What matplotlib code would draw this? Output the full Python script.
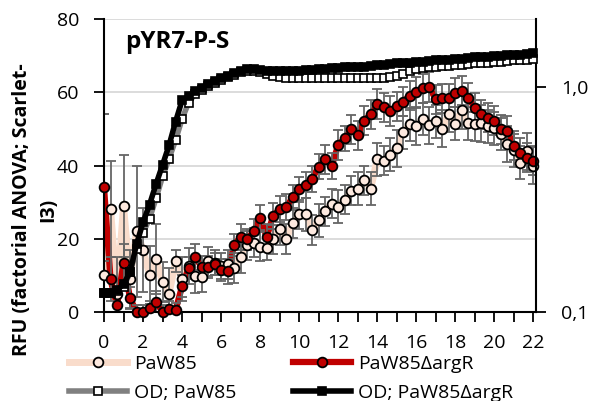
import numpy as np
import matplotlib
matplotlib.use("Agg")
import matplotlib.pyplot as plt
from matplotlib.ticker import FixedLocator, FixedFormatter, NullLocator

plt.rcParams['font.family'] = ['Open Sans', 'DejaVu Sans']

# sampling every 20 min, 0-22 h
hours = np.arange(67) / 3.0

paw85 = [10.1, 28.1, 5.0, 28.9, 9.0, 22.0, 17.0, 10.1, 14.5, 8.1,
         5.0, 13.8, 9.0, 12.6, 9.7, 9.5, 13.8, 13.5, 12.5, 13.0,
         12.0, 15.1, 18.2, 18.9, 17.8, 17.6, 19.8, 22.8, 19.9, 24.3,
         26.7, 26.7, 22.4, 25.1, 27.5, 29.6, 28.7, 30.7, 33.1, 33.7,
         36.0, 33.7, 41.7, 41.3, 43.0, 44.7, 49.1, 51.2, 50.7, 52.7,
         51.0, 52.1, 50.1, 54.1, 51.4, 55.1, 51.6, 51.2, 51.5, 50.7,
         50.2, 48.6, 45.9, 44.1, 40.7, 43.9, 40.0]
paw85_err = [44, 13, 10, 14, 8, 18, 11.5, 8, 9.5, 5.5,
             7, 3, 6, 5, 4.5, 4, 4, 3.5, 3.5, 4,
             4, 4.5, 4, 4, 4, 3.5, 4, 4.5, 4, 4,
             4, 4.5, 4, 4.5, 4, 4, 4.5, 4, 4, 4.5,
             4, 4.5, 4.5, 4, 4.5, 5, 4.5, 4.5, 5, 4.5,
             5, 4.5, 5, 5, 4.5, 5, 4.5, 4.5, 5, 4.5,
             4.5, 4.5, 5, 4.5, 4.5, 5, 5]

argr = [34.0, 8.9, 1.8, 13.5, 3.8, 0.0, 0.0, 1.1, 2.8, 0.0,
        0.9, 0.5, 7.0, 11.9, 15.0, 12.4, 12.2, 13.1, 11.5, 11.1,
        18.3, 20.5, 19.8, 22.0, 25.8, 20.5, 26.2, 28.2, 28.6, 31.3,
        33.5, 34.6, 36.4, 39.7, 41.7, 39.8, 45.6, 47.4, 49.9, 48.2,
        52.2, 54.0, 56.8, 55.9, 54.9, 56.2, 57.4, 59.1, 60.1, 61.1,
        61.4, 58.1, 58.3, 58.3, 59.9, 60.4, 58.5, 55.8, 54.0, 53.1,
        52.2, 49.9, 49.5, 45.4, 43.5, 42.1, 41.3]
argr_err = [20, 6, 4, 5, 3, 2, 2, 2, 3, 2,
            2, 2, 3, 3, 3.5, 3, 3, 3, 3, 3.5,
            3, 3.5, 3, 3.5, 3.5, 3.5, 3.5, 3.5, 3.5, 3.5,
            3.5, 3.5, 3.5, 3.5, 4, 3.5, 4, 3.5, 4, 4,
            4, 4, 4, 4, 4, 4, 4, 4, 4, 4,
            4, 4, 4, 4, 4, 4, 4, 4, 4, 4,
            4, 4, 4, 4, 4, 4, 4]

od_paw85 = [0.121, 0.121, 0.124, 0.129, 0.15, 0.19, 0.225, 0.26, 0.32, 0.40,
            0.48, 0.58, 0.72, 0.85, 0.93, 0.97, 1.01, 1.04, 1.07, 1.10,
            1.13, 1.16, 1.18, 1.18, 1.16, 1.14, 1.12, 1.10, 1.095, 1.09,
            1.09, 1.09, 1.09, 1.09, 1.09, 1.09, 1.09, 1.09, 1.09, 1.09,
            1.09, 1.09, 1.09, 1.09, 1.10, 1.12, 1.14, 1.18, 1.20, 1.21,
            1.22, 1.23, 1.235, 1.24, 1.25, 1.255, 1.26, 1.27, 1.275, 1.28,
            1.29, 1.295, 1.30, 1.31, 1.315, 1.32, 1.33]
od_argr = [0.121, 0.121, 0.125, 0.133, 0.15, 0.20, 0.25, 0.30, 0.37, 0.45,
           0.55, 0.70, 0.87, 0.91, 0.96, 0.99, 1.03, 1.06, 1.09, 1.12,
           1.15, 1.18, 1.20, 1.20, 1.19, 1.18, 1.18, 1.18, 1.18, 1.18,
           1.18, 1.19, 1.19, 1.20, 1.20, 1.21, 1.21, 1.22, 1.22, 1.23,
           1.23, 1.24, 1.25, 1.25, 1.26, 1.27, 1.27, 1.28, 1.29, 1.29,
           1.30, 1.31, 1.31, 1.32, 1.33, 1.33, 1.34, 1.35, 1.35, 1.36,
           1.37, 1.37, 1.38, 1.39, 1.39, 1.40, 1.41]

fig = plt.figure(figsize=(5.89, 4.01), dpi=100)
ax = fig.add_axes([0.1766, 0.2219, 0.7335, 0.7307])

peach = '#F9DCCB'
red = '#C00000'

ax.plot(hours, paw85, color=peach, lw=5, zorder=2)
ax.plot(hours, argr, color=red, lw=4.5, zorder=2.1)
ax.errorbar(hours, paw85, yerr=paw85_err, fmt='none', ecolor='#666666',
            elinewidth=1.3, capsize=3.5, capthick=1.3, zorder=2.5)
ax.errorbar(hours, argr, yerr=argr_err, fmt='none', ecolor='#666666',
            elinewidth=1.3, capsize=3.5, capthick=1.3, zorder=2.5)
ax.plot(hours, paw85, ls='none', marker='o', ms=7, mfc='#FDE9DF', mec='black',
        mew=1.3, zorder=3, clip_on=False)
ax.plot(hours, argr, ls='none', marker='o', ms=7, mfc=red, mec='black',
        mew=1.3, zorder=3.1, clip_on=False)

ax.set_xlim(0, 22.14)
ax.set_ylim(0, 80)
ax.set_yticks([0, 20, 40, 60, 80])
ax.set_xticks(np.arange(0, 23, 2))
ax.xaxis.set_minor_locator(FixedLocator(np.arange(0, 23, 1)))
ax.tick_params(axis='both', which='both', direction='out', length=7, width=1.3,
               labelsize=14, color='black')
ax.tick_params(axis='y', pad=11)
ax.tick_params(axis='x', which='major', pad=9)
ax.grid(axis='y', color='#D9D9D9', lw=1.3)
ax.set_axisbelow(True)
for s in ['top', 'right']:
    ax.spines[s].set_visible(False)
for s in ['left', 'bottom']:
    ax.spines[s].set_linewidth(1.5)

ax.set_ylabel('RFU (factorial ANOVA; Scarlet-\nI3)', fontsize=14,
              fontweight='bold', linespacing=1.4)
ax.yaxis.set_label_coords(-0.107, 0.348)
ax.text(0.05, 0.92, 'pYR7-P-S', transform=ax.transAxes, fontsize=17.5,
        fontweight='bold', va='center', ha='left')

ax2 = ax.twinx()
ax2.plot(hours, od_paw85, color='#808080', lw=4, marker='s', ms=6,
         mfc='white', mec='black', mew=1.2, zorder=3, clip_on=False)
ax2.plot(hours, od_argr, color='black', lw=4, marker='s', ms=6,
         mfc='black', mec='black', mew=1.2, zorder=3.1, clip_on=False)
ax2.set_yscale('log')
ax2.set_ylim(0.1, 2.0)
ax2.yaxis.set_major_locator(FixedLocator([0.1, 1.0]))
ax2.yaxis.set_major_formatter(FixedFormatter(['0,1', '1,0']))
ax2.yaxis.set_minor_locator(NullLocator())
ax2.tick_params(axis='y', direction='out', length=7, width=1.3, labelsize=14,
                pad=11)
for s in ['top', 'left', 'bottom']:
    ax2.spines[s].set_visible(False)
ax2.spines['right'].set_linewidth(1.5)

handles = [
    plt.Line2D([], [], color=peach, lw=5, marker='o', ms=7, mfc='#FDE9DF',
               mec='black', mew=1.3),
    plt.Line2D([], [], color='#808080', lw=4, marker='s', ms=6, mfc='white',
               mec='black', mew=1.2),
    plt.Line2D([], [], color=red, lw=4.5, marker='o', ms=7, mfc=red,
               mec='black', mew=1.3),
    plt.Line2D([], [], color='black', lw=4, marker='s', ms=6, mfc='black',
               mec='black', mew=1.2),
]
labels = ['PaW85', 'OD; PaW85', 'PaW85\u0394argR', 'OD; PaW85\u0394argR']
fig.legend(handles, labels, ncol=2, loc='lower left',
           bbox_to_anchor=(0.100, -0.027), frameon=False, fontsize=14,
           borderpad=0, handlelength=3.0, handletextpad=0.36,
           columnspacing=2.9, labelspacing=0.56)

fig.savefig('out.png', dpi=100)
